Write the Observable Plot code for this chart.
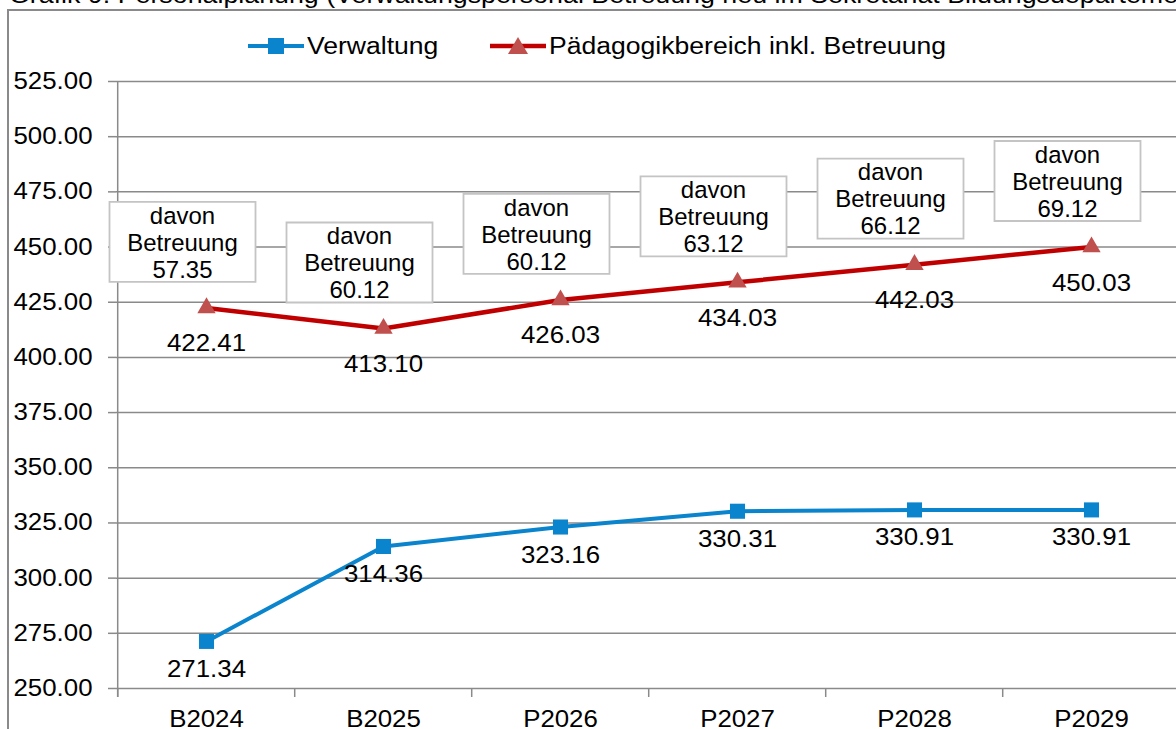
<!DOCTYPE html>
<html>
<head>
<meta charset="utf-8">
<script src="https://cdn.jsdelivr.net/npm/d3@7"></script>
<script src="https://cdn.jsdelivr.net/npm/@observablehq/plot@0.6"></script>
<style>
  body { margin: 0; background: #fff; }
  #wrap { position: relative; width: 1176px; height: 729px; overflow: hidden; background: #fff;
          font-family: "Liberation Sans", Arial, sans-serif; color: #000; }
  #title { position: absolute; left: 9px; top: -17px; font-size: 23.5px; line-height: 24px; white-space: nowrap;
           transform: scaleX(1.14); transform-origin: left center; }
  #frame { position: absolute; left: 7px; top: 9px; width: 1400px; height: 1000px;
           border: 2px solid #8a8a8a; box-sizing: border-box; pointer-events: none; }
  #chart { position: absolute; left: 0; top: 0; }
  .leg { position: absolute; top: 32px; height: 28px; display: flex; align-items: center; white-space: nowrap; }
  .leg svg { display: block; flex: none; }
  .leg span { display: inline-block; font-size: 23.5px; margin-left: 3px; transform: scaleX(1.13); transform-origin: left center; }
</style>
</head>
<body>
<div id="wrap">
  <div id="chart"></div>
  <div id="title"></div>
  <div id="legend"></div>
  <div id="frame"></div>
</div>
<script>
// ---- data ----
const titleText = "Grafik 9: Personalplanung (Verwaltungspersonal Betreuung neu im Sekretariat Bildungsdepartement)";
const categories = ["B2024", "B2025", "P2026", "P2027", "P2028", "P2029"];
const seriesNames = ["Verwaltung", "Pädagogikbereich inkl. Betreuung"];
const verwaltung = [271.34, 314.36, 323.16, 330.31, 330.91, 330.91];
const paedagogik = [422.41, 413.10, 426.03, 434.03, 442.03, 450.03];
const davonBetreuung = [57.35, 60.12, 60.12, 63.12, 66.12, 69.12];
const boxPrefix = ["davon", "Betreuung"];
const yTicks = [250, 275, 300, 325, 350, 375, 400, 425, 450, 475, 500, 525];

// ---- style ----
const blue = "#0A84CC", red = "#C00000", redMarker = "#C0504D";
const gridColor = "#8a8a8a", boxStroke = "#c4c4c4";
const FS = 23.5, SX = 1.1, SX_BOX = 1.02;
const W = 1190, H = 729, ML = 116, MR = 8.4, MT = 81, MB = 41;
const step = (W - ML - MR) / categories.length;
const BOX_W = 146, BOX_H = 80;
const legendLeft = [248, 490];

const verw = categories.map((c, i) => ({cat: c, value: verwaltung[i]}));
const paed = categories.map((c, i) => ({cat: c, value: paedagogik[i], davon: davonBetreuung[i]}));

const boxSymbol = {
  draw(ctx) {
    ctx.moveTo(-BOX_W / 2, -BOX_H / 2);
    ctx.lineTo(BOX_W / 2, -BOX_H / 2);
    ctx.lineTo(BOX_W / 2, BOX_H / 2);
    ctx.lineTo(-BOX_W / 2, BOX_H / 2);
    ctx.closePath();
  }
};

const plot = Plot.plot({
  width: W, height: H,
  marginLeft: ML, marginRight: MR, marginTop: MT, marginBottom: MB,
  style: {background: "transparent", maxWidth: "none", overflow: "visible",
          fontFamily: "'Liberation Sans', Arial, sans-serif", fontSize: FS + "px", color: "#000"},
  x: {type: "point", domain: categories, padding: 0.5, align: 0.5},
  y: {domain: [250, 525]},
  marks: [
    Plot.ruleY(yTicks, {stroke: gridColor, strokeWidth: 1.5}),
    Plot.axisY({ticks: yTicks, tickSize: 8, tickPadding: 16, tickFormat: d => d.toFixed(2),
                fontSize: FS, stroke: gridColor, strokeWidth: 1.5, fill: "#000", label: null}),
    Plot.ruleX([categories[0]], {dx: -step / 2, stroke: gridColor, strokeWidth: 1.5, insetBottom: -9}),
    Plot.ruleX(categories, {x: d => d, y1: 250, y2: 250, dx: -step / 2, insetBottom: -9,
                            stroke: gridColor, strokeWidth: 1.5}),
    Plot.axisX({tickSize: 0, tickPadding: 22, fontSize: FS, fill: "#000", label: null}),
    // "davon Betreuung" boxes
    Plot.dot(paed, {x: "cat", y: "value", symbol: boxSymbol, r: 1, dx: -24, dy: -66,
                    fill: "white", stroke: boxStroke, strokeWidth: 1.8}),
    Plot.text(paed, {x: "cat", y: "value", dx: -24, dy: -66, fontSize: FS, lineHeight: 1.15,
                     text: d => [...boxPrefix, d.davon.toFixed(2)].join("\n"), fill: "#000",
                     ariaDescription: "box-text"}),
    // series
    Plot.line(paed, {x: "cat", y: "value", stroke: red, strokeWidth: 4.5}),
    Plot.line(verw, {x: "cat", y: "value", stroke: blue, strokeWidth: 4}),
    Plot.dot(paed, {x: "cat", y: "value", symbol: "triangle", r: 6.8, fill: redMarker, stroke: "none"}),
    Plot.dot(verw, {x: "cat", y: "value", symbol: "square", r: 8.5, fill: blue, stroke: "none"}),
    Plot.text(paed, {x: "cat", y: "value", text: d => d.value.toFixed(2), dy: 36, fontSize: FS, fill: "#000"}),
    Plot.text(verw, {x: "cat", y: "value", text: d => d.value.toFixed(2), dy: 28, fontSize: FS, fill: "#000"})
  ]
});

// stretch text horizontally around its anchor (the reference renders text somewhat wide)
plot.querySelectorAll("text").forEach(t => {
  const inBox = t.closest('[aria-description="box-text"]') !== null;
  const s = inBox ? SX_BOX : SX;
  const x = +(t.getAttribute("x") || 0);
  const tr = t.getAttribute("transform") || "";
  t.setAttribute("transform", `${tr} translate(${x},0) scale(${s},1) translate(${-x},0)`);
});
document.getElementById("chart").appendChild(plot);

// title
document.getElementById("title").textContent = titleText;

// legend
const legend = document.getElementById("legend");
const swatches = [
  `<svg width="56" height="22"><line x1="0" y1="11" x2="56" y2="11" stroke="${blue}" stroke-width="4"/><rect x="20" y="3" width="16" height="16" fill="${blue}"/></svg>`,
  `<svg width="56" height="22"><line x1="0" y1="11" x2="56" y2="11" stroke="${red}" stroke-width="4.5"/><path d="M28,2 L38,19 L18,19 Z" fill="${redMarker}"/></svg>`
];
seriesNames.forEach((name, i) => {
  const item = document.createElement("div");
  item.className = "leg";
  item.style.left = legendLeft[i] + "px";
  item.innerHTML = swatches[i];
  const s = document.createElement("span");
  s.textContent = name;
  item.appendChild(s);
  legend.appendChild(item);
});
</script>
</body>
</html>
